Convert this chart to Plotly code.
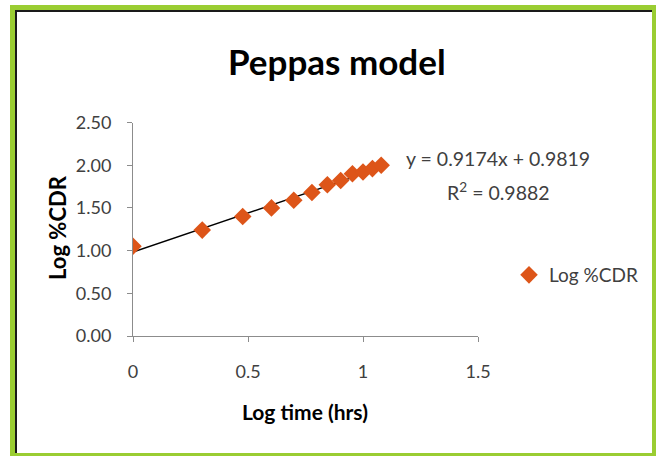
import plotly.graph_objects as go

# ---- data ----
log_time = [0, 0.301, 0.477, 0.602, 0.699, 0.778, 0.845, 0.903, 0.954, 1.0, 1.041, 1.079]
log_cdr = [1.05, 1.24, 1.40, 1.50, 1.59, 1.68, 1.77, 1.82, 1.90, 1.92, 1.96, 2.00]
slope = 0.9174
intercept = 0.9819
r_squared = 0.9882
x_ticks = [0, 0.5, 1, 1.5]
x_tick_text = ["0", "0.5", "1", "1.5"]
y_ticks = [0, 0.5, 1.0, 1.5, 2.0, 2.5]
y_tick_text = ["0.00", "0.50", "1.00", "1.50", "2.00", "2.50"]

W, H = 657, 456
def px(x):
    return x / W
def py(y):
    return 1 - y / H

FONT = "Lato, Open Sans, sans-serif"
MARKER = "#DD5519"
TXT = "#404040"

trend_x = [min(log_time), max(log_time)]
trend_y = [slope * v + intercept for v in trend_x]

fig = go.Figure()
fig.add_trace(go.Scatter(
    x=trend_x, y=trend_y, mode="lines",
    line=dict(color="black", width=1.5), showlegend=False, hoverinfo="skip"))
fig.add_trace(go.Scatter(
    x=log_time, y=log_cdr, mode="markers", name="Log %CDR",
    marker=dict(symbol="diamond", size=13.5, color=MARKER)))

fig.update_layout(
    width=W, height=H, margin=dict(l=0, r=0, t=0, b=0, pad=0, autoexpand=False), autosize=False,
    paper_bgcolor="white", plot_bgcolor="white",
    font=dict(family=FONT, color=TXT, size=18),
    xaxis=dict(domain=[px(133), px(478)], range=[0, 1.5], tickvals=x_ticks, ticktext=x_tick_text,
               showgrid=False, zeroline=False, showline=True, linecolor="#8c8c8c", linewidth=1,
               ticks="outside", ticklen=5, tickcolor="#8c8c8c", ticklabelstandoff=14, automargin=False),
    yaxis=dict(domain=[py(336), py(122.5)], range=[0, 2.5], tickvals=y_ticks, ticktext=y_tick_text,
               showgrid=False, zeroline=False, showline=True, linecolor="#8c8c8c", linewidth=1,
               ticks="outside", ticklen=5, tickcolor="#8c8c8c", ticklabelstandoff=12, automargin=False),
    legend=dict(x=px(509), y=py(275), xanchor="left", yanchor="middle", bgcolor="rgba(0,0,0,0)",
                font=dict(size=19, color=TXT, family=FONT), itemwidth=30),
    showlegend=True,
)

ann = [
    dict(text="<b>Peppas model</b>", x=px(337), y=py(61), font=dict(size=35, color="black")),
    dict(text="<b>Log time (hrs)</b>", x=px(305), y=py(411), font=dict(size=21, color="black")),
    dict(text="<b>Log %CDR</b>", x=px(57), y=py(228), textangle=-90, font=dict(size=22, color="black")),
    dict(text=f"y = {slope}x + {intercept}", x=px(498), y=py(158), font=dict(size=19.5, color=TXT)),
    dict(text=f"R<sup>2</sup> = {r_squared}", x=px(498), y=py(191), font=dict(size=19.5, color=TXT)),
]
for a in ann:
    a.update(xref="paper", yref="paper", showarrow=False, xanchor="center", yanchor="middle")
fig.update_layout(annotations=ann)

GREEN = "#9ACD32"
rects = [
    (10, 5, 15, 456, GREEN), (10, 5, 656, 10, GREEN), (652, 5, 656, 456, GREEN), (10, 453, 656, 456, GREEN),
    (15, 10, 17, 453, "#1a1a1a"), (15, 10, 652, 12, "#1a1a1a"),
]
fig.update_layout(shapes=[
    dict(type="rect", xref="paper", yref="paper", x0=px(a), x1=px(c), y0=py(d), y1=py(b),
         fillcolor=col, line=dict(width=0), layer="above")
    for a, b, c, d, col in rects
])

post = (
    "document.body.style.margin='0';"
    "document.body.style.overflow='hidden';"
)
fig.write_html("out.html", config={"responsive": False, "displayModeBar": False}, post_script=post)
